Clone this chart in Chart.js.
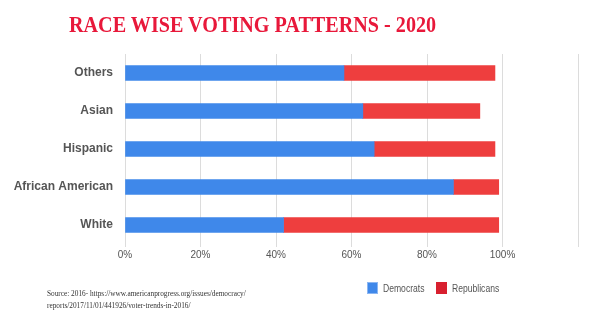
<!DOCTYPE html>
<html>
<head>
<meta charset="utf-8">
<script src="https://cdn.jsdelivr.net/npm/chart.js@4/dist/chart.umd.min.js"></script>
<style>
  html, body { margin: 0; padding: 0; background: #fff; }
  #wrap { position: relative; width: 600px; height: 323px; overflow: hidden; }
  #chart { position: absolute; left: 0; top: 0; }
  #title {
    position: absolute; left: 69px; top: 11px;
    font: bold 24px "Liberation Serif", serif;
    color: #e8183a; white-space: nowrap; transform-origin: 0 0;
  }
  .source {
    position: absolute; left: 47px;
    font: 7.3px "Liberation Serif", serif; color: #333; white-space: nowrap;
  }
  .legend-item {
    position: absolute; top: 282px; height: 13px;
    font: 11px "Liberation Sans", sans-serif; color: #555;
  }
  .legend-item span.box {
    position: absolute; left: 0; top: 0; width: 11px; height: 12px;
  }
  .legend-item span.lbl {
    position: absolute; left: 16px; top: 0; line-height: 13px;
    white-space: nowrap; transform-origin: 0 0; transform: scaleX(0.78);
  }
</style>
</head>
<body>
<div id="wrap">
  <canvas id="chart" width="600" height="323"></canvas>
  <div id="title">RACE WISE VOTING PATTERNS - 2020</div>
  <div class="source" style="top:289px">Source: 2016- https://www.americanprogress.org/issues/democracy/</div>
  <div class="source" style="top:301px">reports/2017/11/01/441926/voter-trends-in-2016/</div>
  <div class="legend-item" style="left:367px">
    <span class="box" style="background:#3f88ea;border:1px solid #8bb6f2;box-sizing:border-box"></span>
    <span class="lbl">Democrats</span>
  </div>
  <div class="legend-item" style="left:436px">
    <span class="box" style="background:#d8202f"></span>
    <span class="lbl">Republicans</span>
  </div>
</div>
<script>
// Share of vote by race, in percent
const groups = ['Others', 'Asian', 'Hispanic', 'African American', 'White'];
const democrats = [58, 63, 66, 87, 42];
const republicans = [40, 31, 32, 12, 57];
const tickValues = [0, 20, 40, 60, 80, 100];

// squeeze the title to its drawn width
const title = document.getElementById('title');
const titleWidth = 367;
title.style.transform = `scaleX(${titleWidth / title.offsetWidth})`;

new Chart(document.getElementById('chart'), {
  type: 'bar',
  data: {
    labels: groups,
    datasets: [
      {
        label: 'Democrats',
        data: democrats,
        backgroundColor: '#3f88ea',
        barThickness: 15
      },
      {
        label: 'Republicans',
        data: republicans,
        backgroundColor: '#ee3e3e',
        barThickness: 15
      }
    ]
  },
  options: {
    indexAxis: 'y',
    responsive: false,
    animation: false,
    layout: { padding: { top: 54, right: 22, left: 0, bottom: 59 } },
    plugins: {
      legend: { display: false },
      tooltip: { enabled: false }
    },
    scales: {
      x: {
        stacked: true,
        min: 0,
        max: 120,
        border: { display: false },
        grid: { color: '#dcdcdc', lineWidth: 1, drawTicks: true, tickLength: 3 },
        afterFit: (scale) => { scale.height = 20; },
        afterBuildTicks: (scale) => {
          scale.ticks = tickValues.concat([120]).map(v => ({ value: v }));
        },
        ticks: {
          padding: 2,
          color: '#555',
          font: { family: '"Liberation Sans", sans-serif', size: 10 },
          callback: (v) => tickValues.includes(v) ? v + '%' : ''
        }
      },
      y: {
        stacked: true,
        border: { display: false },
        grid: { display: false, drawTicks: false },
        afterFit: (scale) => { scale.width = 125; },
        ticks: {
          padding: 12,
          color: '#555',
          font: { family: '"Liberation Sans", Arial, sans-serif', size: 12, weight: 'bold' }
        }
      }
    }
  }
});
</script>
</body>
</html>
